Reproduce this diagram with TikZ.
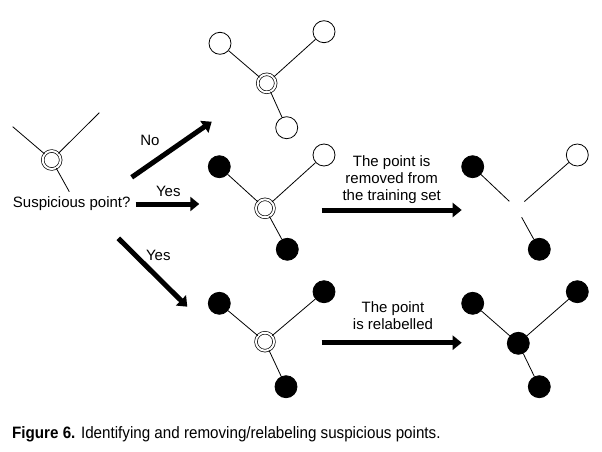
\documentclass[tikz,border=0pt]{standalone}
\usepackage{fontspec}
\setmainfont{Liberation Sans}
\newfontfamily\capfont[FakeStretch=0.92]{Liberation Sans}
\usetikzlibrary{arrows.meta,positioning}

\begin{document}
\begin{tikzpicture}[x=1pt,y=-1pt,
    leaf/.style={circle,draw=black,line width=0.8pt,minimum size=22pt,inner sep=0pt},
    full/.style={leaf,fill=black},
    doubt/.style={circle,draw=black,line width=0.7pt,double,double distance=2pt,minimum size=18pt,inner sep=0pt},
    gone/.style={circle,minimum size=20pt,inner sep=0pt},
    edge/.style={line width=0.8pt},
    fat/.style={line width=5pt,-{Triangle[length=9pt,width=14pt]}},
    lab/.style={font=\fontsize{15}{17}\selectfont,align=center,inner sep=0pt}]
    \useasboundingbox (0,0) rectangle (602,452);

    % the point on its own
    \node (q) [doubt] at (51.7,160) {};
    \coordinate (qa) at (12.7,126.7);
    \coordinate (qb) at (99.3,112.7);
    \coordinate (qc) at (69.3,191.7);
    \draw [edge] (q) -- (qa);
    \draw [edge] (q) -- (qb);
    \draw [edge] (q) -- (qc);
    \node (ask) [lab] at (71.7,204) {Suspicious point?};

    % the three answers
    \coordinate (nofrom) at (131.7,177.3);
    \coordinate (noto) at (211.7,121.7);
    \coordinate (yesto) at (199.3,204);
    \coordinate (yes2from) at (118.3,238.3);
    \coordinate (yes2to) at (187.3,306.7);
    \draw [fat] (nofrom) -- (noto);
    \draw [fat] ([xshift=5pt]ask.east) -- (yesto);
    \draw [fat] (yes2from) -- (yes2to);
    \node (no) [lab] at (150,140) {No};
    \node (yes) [lab] at (168.3,191.5) {Yes};
    \node (yes2) [lab] at (158.3,255) {Yes};

    % no: all neighbours agree
    \node (nc) [doubt] at (266.7,83.3) {};
    \node (na) [leaf] at (220,43.3) {};
    \node (nb) [leaf] at (324,31.7) {};
    \node (nd) [leaf] at (286.7,127.7) {};
    \draw [edge] (nc) -- (na);
    \draw [edge] (nc) -- (nb);
    \draw [edge] (nc) -- (nd);

    % yes: mixed neighbours
    \node (mc) [doubt] at (265,208.3) {};
    \node (ma) [full] at (219.3,166.7) {};
    \node (mb) [leaf] at (324,155) {};
    \node (md) [full] at (287.3,249.3) {};
    \draw [edge] (mc) -- (ma);
    \draw [edge] (mc) -- (mb);
    \draw [edge] (mc) -- (md);

    \coordinate (rmfrom) at (321.7,210);
    \coordinate (rmto) at (461.7,210);
    \draw [fat] (rmfrom) -- (rmto);
    \node (rmtext) [lab] at (391.7,180) {The point is\\removed from\\the training set};

    \node (rc) [gone] at (516.7,208.3) {};
    \node (ra) [full] at (472.7,166.7) {};
    \node (rb) [leaf] at (577.3,155) {};
    \node (rd) [full] at (539.3,249.3) {};
    \draw [edge] (rc) -- (ra);
    \draw [edge] (rc) -- (rb);
    \draw [edge] (rc) -- (rd);

    % yes: neighbours of the other class
    \node (lc) [doubt] at (265,341.7) {};
    \node (la) [full] at (219.3,303.3) {};
    \node (lb) [full] at (324,291.7) {};
    \node (ld) [full] at (286,386.7) {};
    \draw [edge] (lc) -- (la);
    \draw [edge] (lc) -- (lb);
    \draw [edge] (lc) -- (ld);

    \coordinate (relfrom) at (321.7,342.7);
    \coordinate (relto) at (461.7,342.7);
    \draw [fat] (relfrom) -- (relto);
    \node (reltext) [lab] at (393,316) {The point\\is relabelled};

    \node (sc) [full] at (518.3,343.3) {};
    \node (sa) [full] at (472.7,303.3) {};
    \node (sb) [full] at (577.3,291.7) {};
    \node (sd) [full] at (539.3,386.7) {};
    \draw [edge] (sc) -- (sa);
    \draw [edge] (sc) -- (sb);
    \draw [edge] (sc) -- (sd);

    \node (caption) [anchor=base west,inner sep=0pt] at (12,438) {\capfont\fontsize{16.5}{19}\selectfont\textbf{Figure 6.} Identifying and removing/relabeling suspicious points.};
\end{tikzpicture}
\end{document}
